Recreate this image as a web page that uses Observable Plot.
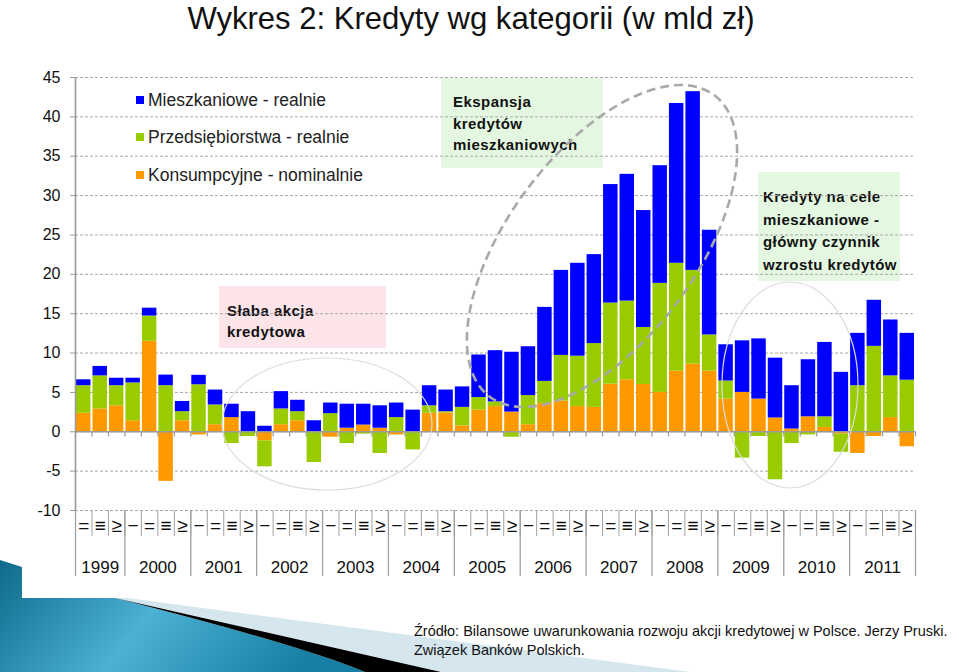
<!DOCTYPE html>
<html><head><meta charset="utf-8">
<script src="https://cdn.jsdelivr.net/npm/d3@7"></script>
<script src="https://cdn.jsdelivr.net/npm/@observablehq/plot@0.6"></script>
<style>
body{margin:0;background:#fff;font-family:"Liberation Sans",Arial,sans-serif;}
#wrap{position:relative;width:959px;height:672px;overflow:hidden;background:#fff;}
.abs{position:absolute;}
.box{position:absolute;font-weight:bold;font-size:15px;letter-spacing:0.45px;color:#111;box-sizing:border-box;}
.leg{position:absolute;left:136px;font-size:17.5px;color:#222;height:20px;line-height:20px;white-space:nowrap;}
.leg i{display:inline-block;width:8px;height:8px;margin-right:4px;vertical-align:middle;position:relative;top:-1px;}
</style></head><body><div id="wrap"></div>
<script>
// ---- data ----
const years = [1999, 2000, 2001, 2002, 2003, 2004, 2005, 2006, 2007, 2008, 2009, 2010, 2011];
const quarterGlyphs = ["−", "=", "≡", "≥"];   // I, II, III, IV as shown
const firstQuarter = 1;                         // series starts in 1999 Q2
const seriesNames = ["Konsumpcyjne - nominalnie", "Przedsiębiorstwa - realnie", "Mieszkaniowe - realnie"];
const seriesColors = ["#FF9900", "#99CC00", "#0000FF"];
const konsumpcyjne = [2.35, 2.9, 3.3, 1.4, 11.5, -6.3, 1.4, -0.4, 0.9, 1.8, 0, -1.15, 0.9, 1.4, 0, -0.7, 0.45, 0.85, 0.45, -0.4, 0, 2.35, 2.4, 0.75, 2.75, 3.2, 2.5, 0.9, 3.6, 3.9, 3.2, 3.1, 6.05, 6.6, 6.0, 5.0, 7.7, 8.6, 7.7, 4.15, 5.0, 4.15, 1.75, 0.35, 1.9, 0.55, -0.3, -2.75, -0.6, 1.8, -1.9];
const przedsiebiorstwa = [3.5, 4.2, 2.55, 4.8, 3.2, 5.85, 1.15, 5.97, 2.5, -1.5, -0.6, -3.3, 2.0, 1.15, -3.9, 2.3, -1.5, -0.3, -2.75, 1.8, -2.3, 0.95, 0.15, 2.35, 1.6, 0.6, -0.7, 3.7, 2.8, 5.8, 6.4, 8.1, 10.3, 10.0, 7.25, 13.85, 13.7, 11.9, 4.6, 2.3, -3.35, -0.6, -6.1, -1.5, -0.4, 1.35, -2.3, 5.85, 10.85, 5.3, 6.55];
const mieszkaniowe = [0.75, 1.2, 0.95, 0.6, 1.0, 1.35, 1.3, 1.2, 1.9, 1.7, 2.55, 0.7, 2.2, 1.45, 1.4, 1.35, 3.05, 2.65, 2.85, 1.85, 2.75, 2.55, 2.75, 2.6, 5.4, 6.5, 7.6, 6.2, 9.4, 10.8, 11.8, 11.3, 15.05, 16.1, 14.85, 14.95, 20.3, 22.7, 13.3, 4.6, 6.55, 7.65, 7.6, 5.5, 7.25, 9.45, 7.55, 6.65, 5.85, 7.1, 5.95];
const yTicks = [-10, -5, 0, 5, 10, 15, 20, 25, 30, 35, 40, 45];

// ---- tables built from the arrays ----
const periods = [];
years.forEach(y => {
  for (let q = (y === years[0] ? firstQuarter : 0); q < 4; q++) periods.push({year: y, q});
});
periods.forEach((p, i) => p.i = i);
const n = periods.length;
const seriesValues = [konsumpcyjne, przedsiebiorstwa, mieszkaniowe];
const rows = [];
periods.forEach((p, i) => seriesNames.forEach((s, k) => rows.push({i, series: s, value: seriesValues[k][i]})));

const boundaries = d3.range(0, n + 1);
const yearStart = years.map(y => periods.find(p => p.year === y).i);
const yearBoundaries = [...yearStart, n];
const yearCenters = years.map((y, k) => (yearBoundaries[k] + yearBoundaries[k + 1]) / 2);
const quarterCenters = periods.map(p => p.i + 0.5);

const grey = "#9a9a9a";
const chart = Plot.plot({
  width: 959, height: 672,
  marginTop: 77, marginBottom: 162, marginLeft: 75, marginRight: 44,
  x: {domain: [0, n], label: null},
  y: {domain: [-10, 45], label: null},
  color: {domain: seriesNames, range: seriesColors},
  style: {background: "transparent", fontFamily: "'Liberation Sans', Arial, sans-serif", color: "#000", overflow: "visible"},
  marks: [
    Plot.gridY(yTicks, {stroke: "#a8a8a8", strokeOpacity: 1, strokeDasharray: "3,2"}),
    Plot.rectY(rows, Plot.stackY({x: "i", interval: 1, y: "value", fill: "series", insetLeft: 1, insetRight: 1})),
    Plot.ruleY([0], {stroke: grey, strokeWidth: 1.6}),
    Plot.ruleX(boundaries, {y1: 0, y2: -0.65, stroke: grey, strokeWidth: 1.2}),
    Plot.ruleX([0], {stroke: grey, strokeWidth: 1.6}),
    Plot.axisY(yTicks, {anchor: "left", tickSize: 5, tickPadding: 10, fontSize: 16, stroke: grey, fill: "#111", tickFormat: d => String(d), label: null}),
    Plot.axisX(boundaries, {anchor: "bottom", tickSize: 26, tickFormat: () => "", stroke: "#a0a0a0", label: null}),
    Plot.axisX(yearBoundaries, {anchor: "bottom", tickSize: 66, tickFormat: () => "", stroke: "#a0a0a0", strokeWidth: 1.3, label: null}),
    Plot.axisX(quarterCenters, {anchor: "bottom", tickSize: 0, tickPadding: 8, fontSize: 19, fill: "#111", tickFormat: d => quarterGlyphs[periods[Math.floor(d)].q], label: null}),
    Plot.axisX(yearCenters, {anchor: "bottom", tickSize: 0, tickPadding: 50, fontSize: 17, fill: "#111", tickFormat: d => String(years[yearCenters.indexOf(d)]), label: null})
  ]
});

const wrap = document.getElementById("wrap");
const ns = "http://www.w3.org/2000/svg";

// slide decoration (bottom-left), behind everything
const deco = document.createElementNS(ns, "svg");
deco.setAttribute("width", 959); deco.setAttribute("height", 672);
deco.style.position = "absolute"; deco.style.left = "0"; deco.style.top = "0";
deco.innerHTML = `
<defs><linearGradient id="bg" x1="0" y1="0" x2="1" y2="0.25">
<stop offset="0" stop-color="#0e6a8a"/><stop offset="0.5" stop-color="#4bb1d5"/><stop offset="1" stop-color="#167fa3"/></linearGradient></defs>
<path d="M115,598 L127,598 L690,672 L441,672 Z" fill="#d5e6ee"/>
<path d="M0,560 L22,567 L22,598 L115,598 Q300,645 365,672 L0,672 Z" fill="url(#bg)"/>
<path d="M115,598 L441,672 L365,672 Q300,645 115,598 Z" fill="#000"/>
`;
wrap.appendChild(deco);

// annotation boxes (behind the chart)
function box(html, l, t, w, h, bg, pl, pt, lh) {
  const d = document.createElement("div");
  d.className = "box";
  Object.assign(d.style, {left: l + "px", top: t + "px", width: w + "px", height: h + "px", background: bg, paddingLeft: pl + "px", paddingTop: pt + "px", lineHeight: lh + "px"});
  d.innerHTML = html;
  wrap.appendChild(d);
}
box("Słaba akcja<br>kredytowa", 219, 286, 167, 62, "#fde4e9", 8, 14, 21);
box("Ekspansja<br>kredytów<br>mieszkaniowych", 441, 78, 162, 90, "#e4f8e1", 12, 13, 21.7);
box("Kredyty na cele<br>mieszkaniowe -<br>główny czynnik<br>wzrostu kredytów", 758, 172, 142, 109, "#e4f8e1", 5, 14, 22.7);

chart.style.position = "absolute";
chart.style.left = "0px";
chart.style.top = "0px";
wrap.appendChild(chart);

// title
const title = document.createElement("div");
title.className = "abs";
Object.assign(title.style, {left: "0px", top: "0px", width: "942px", textAlign: "center", fontSize: "32px", lineHeight: "37px", color: "#111", transform: "scaleX(0.97)", transformOrigin: "471px 0"});
title.textContent = "Wykres 2: Kredyty wg kategorii (w mld zł)";
wrap.appendChild(title);

// legend (blue, green, orange from top)
[[2, 100], [1, 137], [0, 175]].forEach(([k, cy]) => {
  const d = document.createElement("div");
  d.className = "leg";
  d.style.top = (cy - 10) + "px";
  d.innerHTML = `<i style="background:${seriesColors[k]}"></i>${seriesNames[k]}`;
  wrap.appendChild(d);
});

// caption
const cap = document.createElement("div");
cap.className = "abs";
Object.assign(cap.style, {left: "414px", top: "622px", fontSize: "14.5px", lineHeight: "18.5px", color: "#111"});
cap.innerHTML = "Źródło: Bilansowe uwarunkowania rozwoju akcji kredytowej w Polsce. Jerzy Pruski.<br>Związek Banków Polskich.";
wrap.appendChild(cap);

// overlay ellipses
const ov = document.createElementNS(ns, "svg");
ov.setAttribute("width", 959); ov.setAttribute("height", 672);
ov.style.position = "absolute"; ov.style.left = "0"; ov.style.top = "0"; ov.style.pointerEvents = "none";
ov.innerHTML = `
<ellipse cx="327" cy="424" rx="105" ry="66" fill="none" stroke="#dcdcdc" stroke-width="1.2"/>
<ellipse cx="790" cy="385" rx="68" ry="103" fill="none" stroke="#dcdcdc" stroke-width="1.2"/>
<ellipse cx="602" cy="246" rx="188" ry="94" transform="rotate(-53.4 602 246)" fill="none" stroke="#a9a9a9" stroke-width="2.6" stroke-dasharray="9,5"/>
`;
wrap.appendChild(ov);
</script></body></html>
